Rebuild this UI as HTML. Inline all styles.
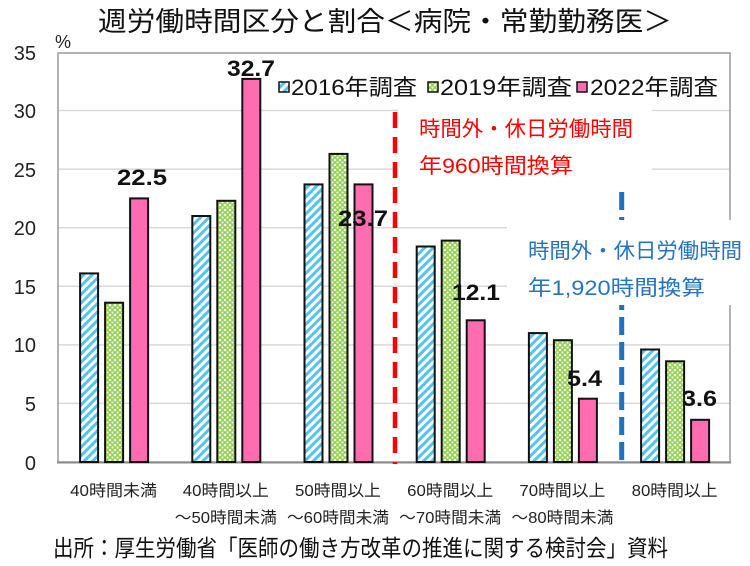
<!DOCTYPE html>
<html><head><meta charset="utf-8"><style>
html,body{margin:0;padding:0;background:#fff;}
svg{display:block;}
text{font-family:"Liberation Sans","Noto Sans CJK JP",sans-serif;}
</style></head><body>
<svg width="750" height="566" viewBox="0 0 750 566" xmlns="http://www.w3.org/2000/svg">
<defs>
<pattern id="pb" patternUnits="userSpaceOnUse" width="6" height="6" patternTransform="rotate(45)">
<rect width="6" height="6" fill="#fff"/>
<rect x="0" y="0" width="3" height="6" fill="#55C3EF"/>
</pattern>
<pattern id="pg" patternUnits="userSpaceOnUse" width="5" height="5">
<rect width="5" height="5" fill="#92D050"/>
<circle cx="0" cy="0" r="1.3" fill="#f4fbe9"/>
<circle cx="5" cy="0" r="1.3" fill="#f4fbe9"/>
<circle cx="0" cy="5" r="1.3" fill="#f4fbe9"/>
<circle cx="5" cy="5" r="1.3" fill="#f4fbe9"/>
<circle cx="2.5" cy="2.5" r="1.1" fill="#f4fbe9"/>
</pattern>
</defs>
<rect width="750" height="566" fill="#fff"/>

<!-- title -->
<text x="98" y="31" font-size="27" fill="#111" textLength="574" lengthAdjust="spacingAndGlyphs">週労働時間区分と割合＜病院・常勤勤務医＞</text>
<text x="55" y="48" font-size="18" fill="#222">%</text>

<!-- gridlines -->
<g stroke="#d9d9d9" stroke-width="1.5">
<line x1="58" y1="403.4" x2="730" y2="403.4"/>
<line x1="58" y1="344.9" x2="730" y2="344.9"/>
<line x1="58" y1="286.3" x2="730" y2="286.3"/>
<line x1="58" y1="227.7" x2="730" y2="227.7"/>
<line x1="58" y1="169.1" x2="730" y2="169.1"/>
<line x1="58" y1="110.5" x2="730" y2="110.5"/>
</g>
<!-- plot border -->
<rect x="58" y="53" width="672" height="409" fill="none" stroke="#9a9a9a" stroke-width="1.5"/>
<line x1="57" y1="462.5" x2="731" y2="462.5" stroke="#8a8a8a" stroke-width="2"/>

<!-- y labels -->
<g font-size="20" fill="#222" text-anchor="end">
<text x="36" y="60">35</text>
<text x="36" y="118">30</text>
<text x="36" y="177">25</text>
<text x="36" y="235">20</text>
<text x="36" y="294">15</text>
<text x="36" y="352">10</text>
<text x="36" y="411">5</text>
<text x="36" y="470">0</text>
</g>

<!-- red annotation box -->
<rect x="398" y="100" width="254" height="76" fill="#fff"/>

<!-- bars -->
<g stroke="#111" stroke-width="2">
<rect x="80.1" y="273.4" width="18" height="188.6" fill="url(#pb)"/>
<rect x="105.1" y="302.7" width="18" height="159.3" fill="url(#pg)"/>
<rect x="130.1" y="198.4" width="18" height="263.6" fill="#FF6CB0"/>
<rect x="192.3" y="216.0" width="18" height="246" fill="url(#pb)"/>
<rect x="217.3" y="200.8" width="18" height="261.2" fill="url(#pg)"/>
<rect x="242.3" y="78.9" width="18" height="383.1" fill="#FF6CB0"/>
<rect x="304.5" y="184.4" width="18" height="277.6" fill="url(#pb)"/>
<rect x="329.5" y="153.9" width="18" height="308.1" fill="url(#pg)"/>
<rect x="354.5" y="184.4" width="18" height="277.6" fill="#FF6CB0"/>
<rect x="416.7" y="246.5" width="18" height="215.5" fill="url(#pb)"/>
<rect x="441.7" y="240.6" width="18" height="221.4" fill="url(#pg)"/>
<rect x="466.7" y="320.3" width="18" height="141.7" fill="#FF6CB0"/>
<rect x="528.9" y="333.1" width="18" height="128.9" fill="url(#pb)"/>
<rect x="553.9" y="340.2" width="18" height="121.8" fill="url(#pg)"/>
<rect x="578.9" y="398.7" width="18" height="63.3" fill="#FF6CB0"/>
<rect x="641.1" y="349.5" width="18" height="112.5" fill="url(#pb)"/>
<rect x="666.1" y="361.3" width="18" height="100.7" fill="url(#pg)"/>
<rect x="691.1" y="419.8" width="18" height="42.2" fill="#FF6CB0"/>
</g>

<!-- red dashed line -->
<line x1="395" y1="112" x2="395" y2="464" stroke="#FF0000" stroke-width="4.5" stroke-dasharray="16,9"/>
<!-- blue dashed line -->
<line x1="621.7" y1="192" x2="621.7" y2="465" stroke="#1F72C0" stroke-width="5" stroke-dasharray="18,7"/>

<!-- blue annotation box -->
<rect x="507" y="220" width="243" height="85" fill="#fff"/>

<!-- annotation texts -->
<g font-size="21" fill="#FF0000">
<text x="419" y="136" textLength="214" lengthAdjust="spacingAndGlyphs">時間外・休日労働時間</text>
<text x="419" y="173" textLength="154" lengthAdjust="spacingAndGlyphs">年960時間換算</text>
</g>
<g font-size="21" fill="#2474BE">
<text x="528" y="258" textLength="214" lengthAdjust="spacingAndGlyphs">時間外・休日労働時間</text>
<text x="528" y="295" textLength="177" lengthAdjust="spacingAndGlyphs">年1,920時間換算</text>
</g>

<!-- legend -->
<g stroke="#111" stroke-width="1.5">
<rect x="279" y="82" width="10" height="10" fill="url(#pb)"/>
<rect x="428" y="82" width="10" height="10" fill="url(#pg)"/>
<rect x="577" y="82" width="10" height="10" fill="#FF6CB0"/>
</g>
<g font-size="22" fill="#111">
<text x="291" y="95" textLength="126" lengthAdjust="spacingAndGlyphs">2016年調査</text>
<text x="440" y="95" textLength="132" lengthAdjust="spacingAndGlyphs">2019年調査</text>
<text x="590" y="95" textLength="128" lengthAdjust="spacingAndGlyphs">2022年調査</text>
</g>

<!-- data labels -->
<g font-size="22" font-weight="bold" fill="#111">
<text x="117" y="185" textLength="50" lengthAdjust="spacingAndGlyphs">22.5</text>
<text x="227" y="76" textLength="48" lengthAdjust="spacingAndGlyphs">32.7</text>
<text x="338" y="226" textLength="50" lengthAdjust="spacingAndGlyphs">23.7</text>
<text x="452" y="300" textLength="48" lengthAdjust="spacingAndGlyphs">12.1</text>
<text x="567" y="386" textLength="35" lengthAdjust="spacingAndGlyphs">5.4</text>
<text x="682" y="406" textLength="35" lengthAdjust="spacingAndGlyphs">3.6</text>
</g>

<!-- x labels -->
<g font-size="16" fill="#222" text-anchor="middle">
<text x="113.6" y="496" textLength="87" lengthAdjust="spacingAndGlyphs">40時間未満</text>
<text x="225.8" y="496" textLength="86" lengthAdjust="spacingAndGlyphs">40時間以上</text>
<text x="338" y="496" textLength="86" lengthAdjust="spacingAndGlyphs">50時間以上</text>
<text x="450.2" y="496" textLength="86" lengthAdjust="spacingAndGlyphs">60時間以上</text>
<text x="562.4" y="496" textLength="86" lengthAdjust="spacingAndGlyphs">70時間以上</text>
<text x="674.6" y="496" textLength="86" lengthAdjust="spacingAndGlyphs">80時間以上</text>
<text x="225.8" y="523" textLength="102" lengthAdjust="spacingAndGlyphs">～50時間未満</text>
<text x="338" y="523" textLength="102" lengthAdjust="spacingAndGlyphs">～60時間未満</text>
<text x="450.2" y="523" textLength="102" lengthAdjust="spacingAndGlyphs">～70時間未満</text>
<text x="562.4" y="523" textLength="102" lengthAdjust="spacingAndGlyphs">～80時間未満</text>
</g>

<!-- source -->
<text x="53" y="556" font-size="23" fill="#111" textLength="615" lengthAdjust="spacingAndGlyphs">出所：厚生労働省「医師の働き方改革の推進に関する検討会」資料</text>
</svg>
</body></html>
